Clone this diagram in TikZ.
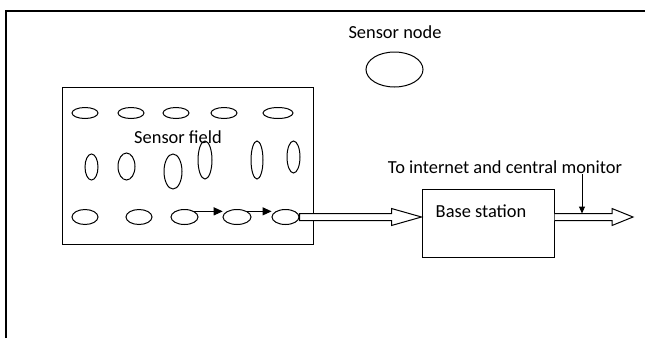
\documentclass[tikz,border=0pt]{standalone}
\usepackage{fontspec}
\setmainfont{Carlito}
\usetikzlibrary{shapes.geometric,calc,arrows.meta}
\begin{document}
\begin{tikzpicture}[x=1pt,y=-1pt,
  sn/.style={draw, ellipse, inner sep=0pt, line width=1pt},
  box/.style={draw, line width=1pt, inner sep=0pt},
  lbl/.style={font=\fontsize{18.4}{22}\selectfont, inner sep=0pt},
  hollow/.style={draw, line width=1pt, fill=white, line join=miter},
  small/.style={line width=1pt, -{Triangle[length=9pt,width=8pt]}}]
\useasboundingbox (0,0) rectangle (645,338);
\draw[line width=1.1pt] (6,338) -- (6,11) -- (645,11);

% sensor node legend
\node[lbl] (snl) at (395,32) {Sensor node};
\node[sn, minimum width=57pt, minimum height=35pt] (snode) at (394.5,69.5) {};

% sensor field
\node[box, minimum width=251pt, minimum height=157pt] (field) at (187.5,165.5) {};
\node[lbl] (fl) at (178,137) {Sensor field};

% top row
\node[sn, minimum width=26pt, minimum height=11pt] (t1) at (85,113) {};
\node[sn, minimum width=26pt, minimum height=11pt] (t2) at (131,113) {};
\node[sn, minimum width=26pt, minimum height=11pt] (t3) at (176,113) {};
\node[sn, minimum width=26pt, minimum height=11pt] (t4) at (224,113) {};
\node[sn, minimum width=30pt, minimum height=11pt] (t5) at (278,113) {};

% middle row
\node[sn, minimum width=13pt, minimum height=26pt] (m1) at (91.5,167) {};
\node[sn, minimum width=17pt, minimum height=27pt] (m2) at (126.5,166.5) {};
\node[sn, minimum width=18pt, minimum height=35pt] (m3) at (173,171.5) {};
\node[sn, minimum width=14pt, minimum height=38pt] (m4) at (205,160) {};
\node[sn, minimum width=12pt, minimum height=38pt] (m5) at (257,160) {};
\node[sn, minimum width=13pt, minimum height=32pt] (m6) at (293.5,157) {};

% bottom row
\node[sn, minimum width=26pt, minimum height=15pt] (b1) at (85,217) {};
\node[sn, minimum width=26pt, minimum height=15pt] (b2) at (139,217) {};
\node[sn, minimum width=27pt, minimum height=15pt] (b3) at (184.5,217) {};
\node[sn, minimum width=28pt, minimum height=15pt] (b4) at (237,217) {};
\node[sn, minimum width=27pt, minimum height=15pt] (b5) at (285.5,217) {};

\draw[small, shorten >=4pt] (b3.north east) -- (b4.north west |- b3.north east);
\draw[small, shorten >=4pt] (b4.north east) -- (b5.north west |- b4.north east);

% base station
\node[box, minimum width=132pt, minimum height=68pt] (base) at (488,223) {};
\node[lbl] (bl) at (481,211) {Base station};

% hollow arrow field -> base
\coordinate (tip1) at (base.west |- b5.east);
\draw[hollow] ($(b5.east)+(0,-3.5)$) -- ($(tip1)+(-30,-3.5)$) -- ($(tip1)+(-30,-8.5)$)
  -- (tip1) -- ($(tip1)+(-30,8.5)$) -- ($(tip1)+(-30,3.5)$) -- ($(b5.east)+(0,3.5)$) -- cycle;

% hollow arrow base -> out
\coordinate (start2) at (base.east |- b5.east);
\coordinate (tip2) at (633,217);
\draw[hollow] ($(start2)+(0,-3.5)$) -- ($(tip2)+(-21,-3.5)$) -- ($(tip2)+(-21,-8.5)$)
  -- (tip2) -- ($(tip2)+(-21,8.5)$) -- ($(tip2)+(-21,3.5)$) -- ($(start2)+(0,3.5)$);

% monitor label and arrow
\node[lbl] (mon) at (505,167) {To internet and central monitor};
\coordinate (mtop) at (582,174);
\coordinate (mbot) at (582,213.5);
\draw[line width=1pt, -{Triangle[length=7pt,width=6pt]}] (mtop) -- (mbot);
\end{tikzpicture}
\end{document}
